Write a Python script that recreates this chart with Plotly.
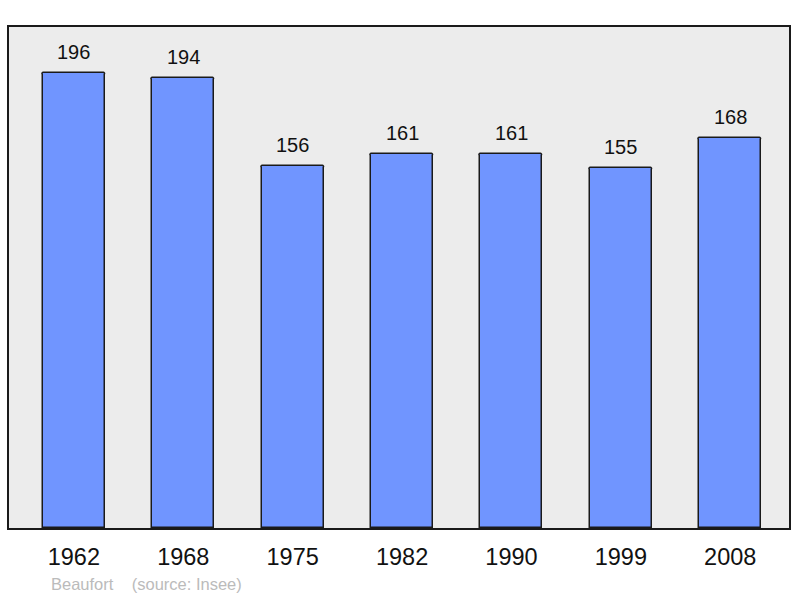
import plotly.graph_objects as go

years = ["1962", "1968", "1975", "1982", "1990", "1999", "2008"]
population = [196, 194, 156, 161, 161, 155, 168]
commune = "Beaufort"
source = "(source: Insee)"

xs = list(range(len(years)))

fig = go.Figure()
fig.add_trace(go.Bar(
    x=xs, y=population, width=0.567,
    marker=dict(color="#7095FF", line=dict(color="#1a1a1a", width=1.5), cornerradius=2),
    hoverinfo="skip",
))

for x, v in zip(xs, population):
    fig.add_annotation(x=x, y=v, text=str(v), showarrow=False, yshift=21,
                       yanchor="middle", font=dict(size=20, color="#111111"))

fig.add_annotation(xref="paper", yref="paper", x=(49 - 9) / 782, y=-(584 - 528) / 501,
                   xanchor="left", yanchor="middle", showarrow=False,
                   text=commune + "&nbsp;&nbsp;&nbsp;&nbsp;" + source,
                   font=dict(size=16.5, color="#BBBBBB"))

fig.update_layout(
    width=800, height=598,
    margin=dict(l=9, r=9, t=27, b=70),
    paper_bgcolor="white", plot_bgcolor="#ECECEC",
    font=dict(family="Liberation Sans, Arial, sans-serif"),
    showlegend=False,
    bargap=0,
)
fig.update_xaxes(range=[-0.593, 6.537], tickvals=xs, ticktext=years,
                 tickfont=dict(size=23.5, color="#111111"), ticks="", ticklabelstandoff=7,
                 showgrid=False, zeroline=False,
                 showline=True, mirror=True, linecolor="#1a1a1a", linewidth=2)
fig.update_yaxes(range=[0, 215.8], showticklabels=False, showgrid=False, zeroline=False,
                 ticks="", showline=True, mirror=True, linecolor="#1a1a1a", linewidth=2)

fig.write_html("out.html", config={"displayModeBar": False},
               post_script="document.body.style.margin='0';document.body.style.overflow='hidden';")
